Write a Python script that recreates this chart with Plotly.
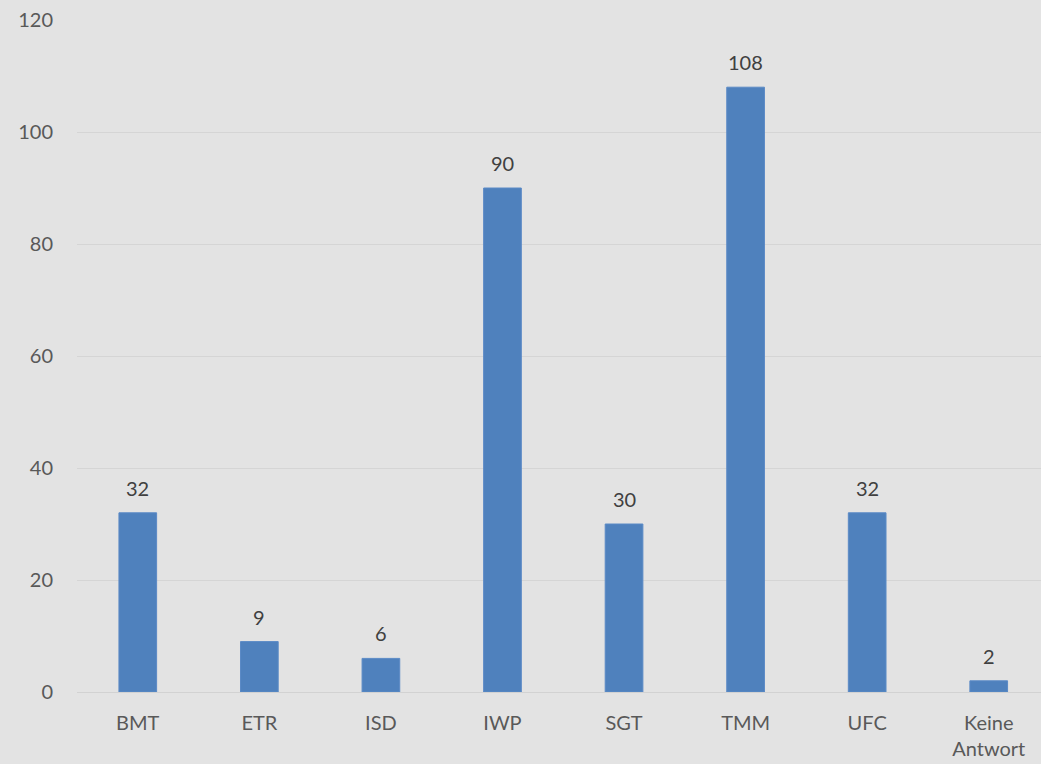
import plotly.graph_objects as go

categories = ["BMT", "ETR", "ISD", "IWP", "SGT", "TMM", "UFC", "Keine<br>Antwort"]
values = [32, 9, 6, 90, 30, 108, 32, 2]
y_ticks = [0, 20, 40, 60, 80, 100, 120]

BG = "#e3e3e3"
BAR = "#4f81bd"
FONT = "Lato, 'Open Sans', sans-serif"

fig = go.Figure()
fig.add_trace(go.Bar(
    x=categories, y=values,
    marker=dict(color=BAR, line=dict(color="#5b8ac6", width=1)),
    hoverinfo="x+y",
))

for c, v in zip(categories, values):
    fig.add_annotation(x=c, y=v, text=str(v), showarrow=False,
                       yanchor="middle", yshift=25,
                       font=dict(family=FONT, size=20, color="#404040"))

fig.update_layout(
    width=1041, height=764,
    margin=dict(l=77, r=0, t=20, b=72),
    paper_bgcolor=BG, plot_bgcolor=BG,
    bargap=0.69,
    showlegend=False,
    font=dict(family=FONT, size=20, color="#595959"),
)
fig.update_xaxes(range=[-0.5, 7.43], showgrid=False, showline=False,
                 ticks="", ticklabelstandoff=17, zeroline=False)
fig.update_yaxes(range=[0, 120], tickvals=y_ticks, showgrid=True,
                 gridcolor="#d5d5d5", gridwidth=1, zeroline=True,
                 zerolinecolor="#d2d2d2", zerolinewidth=1,
                 ticks="", ticklabelstandoff=23, showline=False)

fig.write_html("out.html", config={"displayModeBar": False},
               post_script="document.body.style.margin='0';")
